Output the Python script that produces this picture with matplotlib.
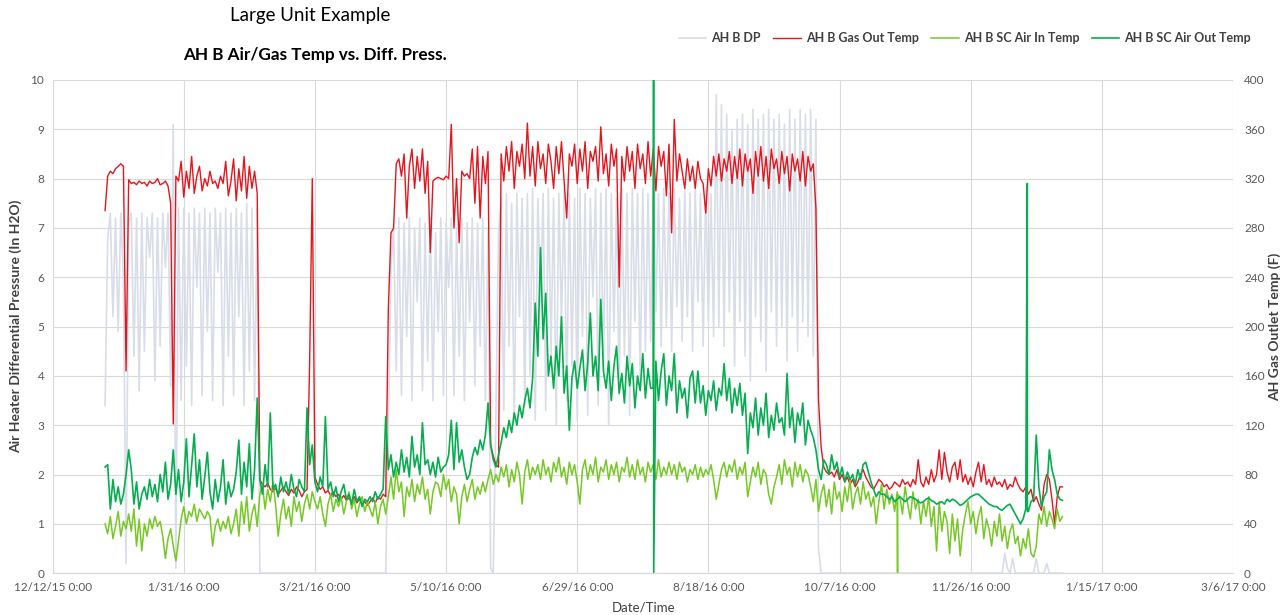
import pandas as pd
import matplotlib.pyplot as plt

plt.rcParams['font.family'] = ['Lato', 'DejaVu Sans']

# Daily readings for 2016, starting 1 Jan
START = '2016-01-01'

# Air heater B differential pressure (in H2O)
AH_B_DP = [
    3.4, 6.8, 7.3, 5.2, 7.2, 4.9, 7.3, 6.0, 0.2, 7.1,
    7.3, 4.4, 7.2, 3.7, 7.3, 4.5, 7.2, 6.4, 7.3, 3.9,
    7.2, 4.6, 7.3, 6.2, 7.3, 3.8, 9.1, 0.1, 7.4, 3.5,
    7.4, 4.2, 7.3, 3.4, 7.4, 5.8, 7.3, 3.6, 7.4, 4.9,
    7.3, 3.5, 7.4, 6.1, 7.3, 3.4, 7.4, 4.4, 7.3, 3.6,
    7.4, 5.2, 7.3, 3.4, 7.5, 4.1, 7.4, 3.5, 7.4, 0.0,
    0.0, 0.0, 0.0, 0.0, 0.0, 0.0, 0.0, 0.0, 0.0, 0.0,
    0.0, 0.0, 0.0, 0.0, 0.0, 0.0, 0.0, 0.0, 0.0, 0.0,
    0.0, 0.0, 0.0, 0.0, 0.0, 0.0, 0.0, 0.0, 0.0, 0.0,
    0.0, 0.0, 0.0, 0.0, 0.0, 0.0, 0.0, 0.0, 0.0, 0.0,
    0.0, 0.0, 0.0, 0.0, 0.0, 0.0, 0.0, 0.0,
    3.0, 6.2, 7.0, 4.1, 7.2, 3.6, 7.1, 4.8, 7.2, 3.5,
    7.0, 5.5, 7.2, 3.7, 7.1, 4.3, 7.2, 3.5, 6.9, 4.9,
    7.2, 3.6, 7.1, 5.8, 7.2, 3.6, 7.0, 4.4, 7.2, 3.5,
    7.1, 5.1, 7.2, 3.8, 7.1, 4.6, 7.2, 3.5, 7.0, 0.1,
    0.0, 3.2, 6.9, 7.6, 3.3, 7.7, 4.6, 7.5, 3.0, 7.7,
    5.2, 7.6, 3.4, 7.7, 4.0, 7.8, 3.1, 7.6, 5.5, 7.7,
    3.3, 7.8, 4.4, 7.6, 3.0, 7.7, 5.0, 7.8, 3.5, 7.7,
    4.2, 7.6, 3.1, 7.8, 4.8, 7.7, 3.2, 7.6, 5.6, 7.8,
    3.4, 7.7, 4.1, 7.8, 3.0, 7.7, 4.9, 7.6, 3.6, 7.8,
    4.4, 7.7, 3.2, 7.8, 5.1, 7.7, 3.9, 7.8, 4.5, 7.7,
    4.7, 7.8, 5.3, 7.7, 4.6, 7.8, 5.0, 7.7, 4.5, 7.8,
    5.4, 7.6, 4.7, 7.8, 5.2, 7.7, 4.5, 7.8, 5.5, 7.7,
    4.6, 7.8, 5.1, 7.7, 4.8, 9.7, 5.0, 9.5, 4.6, 9.3,
    5.3, 9.0, 4.2, 9.2, 5.1, 9.3, 4.4, 9.1, 3.9, 9.4,
    5.2, 9.2, 4.7, 9.3, 4.1, 9.4, 5.3, 9.2, 4.6, 9.3,
    5.0, 9.1, 4.3, 9.4, 5.2, 9.2, 4.5, 9.4, 5.1, 9.3,
    4.8, 9.4, 4.4, 9.2, 0.5, 0.0, 0.0, 0.0, 0.0, 0.0,
    0.0, 0.0, 0.0, 0.0, 0.0, 0.0, 0.0, 0.0, 0.0, 0.0,
    0.0, 0.0, 0.0, 0.0, 0.0, 0.0, 0.0, 0.0, 0.0, 0.0,
    0.0, 0.0, 0.0, 0.0, 0.0, 0.0, 0.0, 0.0, 0.0, 0.0,
    0.0, 0.0, 0.0, 0.0, 0.0, 0.0, 0.0, 0.0, 0.0, 0.0,
    0.0, 0.0, 0.0, 0.0, 0.0, 0.0, 0.0, 0.0, 0.0, 0.0,
    0.0, 0.0, 0.0, 0.0, 0.0, 0.0, 0.0, 0.0, 0.0, 0.0,
    0.0, 0.0, 0.0, 0.0, 0.0, 0.4, 0.1, 0.0, 0.3, 0.0,
    0.0, 0.0, 0.0, 0.0, 0.0, 0.0, 0.0, 0.3, 0.0, 0.0,
    0.0, 0.2, 0.0, 0.0, 0.0, 0.0, 0.0, 0.0,
]

# Gas outlet temperature (F)
AH_B_GAS_OUT = [
    294, 322, 326, 324, 328, 330, 332, 330, 164, 319,
    316, 317, 315, 318, 316, 317, 314, 318, 316, 317,
    320, 315, 316, 318, 314, 300, 121, 322, 318, 334,
    305, 326, 312, 338, 308, 322, 330, 310, 320, 314,
    326, 316, 318, 312, 322, 316, 334, 306, 318, 336,
    302, 328, 310, 338, 304, 330, 312, 326, 308, 76,
    72, 70, 73, 68, 66, 69, 64, 67, 70, 66,
    63, 68, 65, 70, 67, 62, 66, 68, 172, 320,
    78, 72, 68, 70, 65, 67, 63, 66, 62, 64,
    60, 63, 59, 61, 58, 62, 57, 60, 56, 58,
    55, 58, 61, 57, 62, 60, 64, 62, 215, 276,
    280, 332, 336, 322, 340, 288, 330, 344, 312, 338,
    318, 344, 308, 334, 260, 318, 320, 321, 320, 319,
    322, 320, 364, 280, 320, 268, 326, 322, 324, 320,
    344, 300, 346, 288, 338, 316, 342, 104, 95, 88,
    86, 340, 318, 346, 326, 350, 312, 342, 330, 348,
    320, 365, 322, 346, 314, 350, 328, 340, 316, 348,
    334, 312, 346, 324, 350, 318, 288, 340, 330, 348,
    316, 344, 326, 350, 312, 342, 334, 346, 318, 362,
    324, 340, 314, 348, 330, 344, 232, 338, 318, 346,
    326, 342, 312, 348, 328, 340, 316, 350, 322, 344,
    310, 346, 330, 342, 306, 348, 276, 368, 318, 340,
    326, 312, 336, 318, 330, 312, 334, 320, 316, 292,
    328, 314, 338, 322, 340, 318, 336, 326, 342, 316,
    338, 320, 344, 314, 340, 326, 336, 308, 342, 322,
    346, 318, 338, 312, 344, 328, 336, 316, 342, 324,
    338, 310, 340, 326, 336, 318, 342, 314, 338, 326,
    332, 296, 140, 102, 86, 82, 80, 82, 78, 84,
    76, 80, 74, 78, 72, 76, 70, 74, 80, 84,
    78, 74, 70, 68, 72, 76, 74, 70, 72, 68,
    70, 74, 72, 70, 76, 72, 74, 70, 76, 72,
    92, 74, 70, 78, 72, 84, 74, 80, 100, 76,
    98, 82, 74, 86, 90, 76, 92, 74, 80, 72,
    78, 70, 82, 90, 74, 88, 72, 76, 70, 78,
    72, 74, 70, 76, 68, 72, 70, 78, 72, 68,
    66, 70, 64, 68, 58, 62, 56, 51, 72, 80,
    76, 60, 40, 62, 70, 70,
]

# Soot cleaner air inlet temperature (F)
AH_B_SC_AIR_IN = [
    40, 32, 46, 28, 38, 50, 30, 42, 36, 48,
    34, 52, 22, 44, 18, 40, 30, 44, 36, 46,
    38, 42, 30, 12, 28, 36, 22, 10, 26, 44,
    54, 40, 50, 46, 56, 42, 52, 48, 44, 50,
    46, 22, 38, 44, 34, 42, 36, 46, 32, 40,
    52, 30, 58, 40, 62, 34, 48, 56, 38, 64,
    72, 52, 68, 58, 74, 56, 30, 48, 60, 44,
    54, 38, 62, 50, 58, 42, 56, 64, 52, 66,
    58, 52, 62, 48, 38, 56, 64, 50, 60, 54,
    62, 48, 58, 66, 52, 60, 46, 56, 62, 50,
    58, 52, 46, 58, 40, 54, 60, 48, 62, 78,
    60, 84, 66, 74, 46, 70, 62, 76, 58, 72,
    64, 78, 60, 68, 48, 66, 74, 72, 62, 80,
    68, 76, 58, 70, 64, 40, 62, 72, 58, 68,
    76, 60, 70, 64, 74, 66, 76, 84, 72, 80,
    74, 86, 78, 88, 70, 84, 74, 90, 80, 56,
    82, 92, 76, 86, 80, 88, 76, 92, 80, 86,
    74, 90, 82, 94, 78, 86, 72, 90, 80, 88,
    74, 56, 84, 92, 76, 88, 80, 94, 74, 86,
    82, 92, 76, 88, 80, 90, 74, 86, 82, 94,
    78, 88, 76, 92, 80, 86, 74, 90, 82, 88,
    76, 92, 78, 86, 80, 90, 80, 88, 76, 90,
    82, 86, 74, 84, 80, 88, 76, 86, 78, 84,
    80, 88, 76, 60, 72, 84, 90, 78, 88, 82,
    92, 76, 86, 80, 90, 62, 74, 86, 78, 90,
    72, 84, 80, 64, 56, 70, 78, 88, 72, 92,
    80, 86, 70, 90, 78, 88, 74, 84, 80, 70,
    58, 76, 50, 64, 72, 54, 68, 48, 74, 60,
    66, 50, 70, 58, 76, 52, 64, 70, 56, 74,
    60, 66, 54, 62, 40, 58, 72, 52, 68, 56,
    64, 50, 66, 62, 48, 70, 56, 44, 66, 52,
    60, 40, 58, 46, 62, 38, 54, 18, 58, 34,
    50, 42, 16, 48, 26, 44, 14, 36, 48, 58,
    40, 50, 32, 46, 54, 28, 44, 36, 22, 42,
    30, 48, 26, 38, 20, 34, 40, 24, 30, 14,
    28, 20, 36, 16, 13, 22, 48, 40, 54, 38,
    50, 44, 36, 52, 42, 46,
]

# Soot cleaner air outlet temperature (F)
AH_B_SC_AIR_OUT = [
    86, 88, 52, 76, 58, 70, 56, 64, 80, 100,
    84, 56, 74, 52, 64, 70, 60, 76, 62, 72,
    58, 80, 66, 90, 60, 72, 100, 64, 84, 58,
    74, 109, 62, 88, 113, 70, 92, 60, 78, 98,
    66, 52, 76, 58, 70, 92, 56, 74, 62, 68,
    82, 108, 64, 90, 70, 105, 60, 84, 142, 76,
    64, 88, 70, 130, 68, 72, 62, 78, 66, 74,
    64, 80, 68, 62, 76, 70, 66, 134, 88, 104,
    74, 66, 78, 70, 127, 68, 74, 62, 70, 58,
    66, 72, 60, 64, 56, 68, 58, 62, 54, 60,
    58, 62, 58, 66, 60, 64, 68, 127, 84, 96,
    78, 90, 80, 100, 82, 94, 78, 111, 86, 96,
    80, 122, 88, 92, 80, 90, 78, 94, 82, 86,
    88, 96, 124, 84, 122, 90, 100, 86, 76, 80,
    94, 102, 96, 108, 100, 112, 138, 104, 92, 86,
    96, 106, 118, 110, 124, 114, 130, 120, 136, 126,
    140, 150, 134, 158, 219, 176, 264, 190, 227, 160,
    176, 150, 184, 160, 208, 146, 168, 116, 158, 172,
    150, 166, 181, 148, 170, 211, 160, 176, 148, 222,
    164, 150, 172, 140, 168, 184, 146, 162, 138, 176,
    152, 170, 134, 160, 148, 178, 142, 166, 150, 150,
    172, 140, 164, 178, 136, 160, 148, 178, 130, 156,
    142, 150, 126, 158, 164, 138, 164, 138, 152, 128,
    148, 140, 156, 132, 150, 144, 170, 140, 158, 130,
    150, 136, 154, 128, 146, 97, 130, 118, 142, 112,
    134, 120, 146, 110, 128, 116, 138, 122, 126, 112,
    162, 118, 134, 106, 130, 120, 138, 104, 124, 116,
    110, 100, 84, 76, 92, 88, 80, 96, 84, 90,
    78, 86, 74, 82, 76, 80, 72, 84, 76, 88,
    90, 82, 74, 68, 62, 66, 64, 64, 62, 60,
    62, 58, 60, 62, 60, 58, 60, 62, 61, 60,
    58, 57, 58, 60, 61, 59, 58, 56, 57, 58,
    56, 60, 58, 60, 59, 57, 55, 56, 58, 60,
    62, 63, 64, 64, 62, 60, 58, 56, 55, 54,
    54, 52, 51, 53, 55, 56, 52, 48, 44, 40,
    44, 52, 50, 58, 60, 112, 70, 54, 62, 66,
    100, 84, 76, 64, 60, 59,
]

# Short instrument glitches between the daily readings
AIR_IN_GLITCH_TIMES = ['2016-10-29 03:00', '2016-10-29 04:00']
AIR_IN_GLITCH_VALUES = [0, 64]
AIR_OUT_GLITCH_TIMES = ['2016-07-28 03:00', '2016-07-28 04:00',
                        '2016-12-17 14:00', '2016-12-17 15:00']
AIR_OUT_GLITCH_VALUES = [480, 0, 316, 50]

X_TICKS = ['2015-12-12', '2016-01-31', '2016-03-21', '2016-05-10', '2016-06-29',
           '2016-08-18', '2016-10-07', '2016-11-26', '2017-01-15', '2017-03-06']
X_TICK_LABELS = ['12/12/15 0:00', '1/31/16 0:00', '3/21/16 0:00', '5/10/16 0:00',
                 '6/29/16 0:00', '8/18/16 0:00', '10/7/16 0:00', '11/26/16 0:00',
                 '1/15/17 0:00', '3/6/17 0:00']

for s in (AH_B_DP, AH_B_GAS_OUT, AH_B_SC_AIR_IN, AH_B_SC_AIR_OUT):
    assert len(s) == 366, len(s)

dates = pd.date_range(START, periods=366, freq='D')


def make_series(values, extra_times=None, extra_values=None):
    s = pd.Series(values, index=dates, dtype=float)
    if extra_times:
        extra = pd.Series(extra_values, index=pd.to_datetime(extra_times), dtype=float)
        s = pd.concat([s, extra]).sort_index()
    return s


dp = make_series(AH_B_DP)
gas_out = make_series(AH_B_GAS_OUT)
air_in = make_series(AH_B_SC_AIR_IN, AIR_IN_GLITCH_TIMES, AIR_IN_GLITCH_VALUES)
air_out = make_series(AH_B_SC_AIR_OUT, AIR_OUT_GLITCH_TIMES, AIR_OUT_GLITCH_VALUES)

DP_COLOR = '#d8dde8'
RED = '#e4161d'
LIGHT_GREEN = '#76c825'
GREEN = '#06ad50'
TEXT = '#404040'
TICK = '#595959'
GRID = '#d9d9d9'

fig = plt.figure(figsize=(12.83, 6.15), dpi=100)
ax = fig.add_axes([0.041, 0.068, 0.920, 0.802])
ax2 = ax.twinx()

# DP on the left axis, temperatures on the right
l_dp, = ax.plot(dp.index, dp.values, color=DP_COLOR, lw=1.2, label='AH B DP')
l_gas, = ax2.plot(gas_out.index, gas_out.values, color=RED, lw=1.0, label='AH B Gas Out Temp')
l_in, = ax2.plot(air_in.index, air_in.values, color=LIGHT_GREEN, lw=1.1, label='AH B SC Air In Temp')
l_out, = ax2.plot(air_out.index, air_out.values, color=GREEN, lw=1.2, label='AH B SC Air Out Temp')

ax.set_xlim(pd.Timestamp('2015-12-12'), pd.Timestamp('2017-03-06'))
ax.set_ylim(0, 10)
ax2.set_ylim(0, 400)
ax.set_yticks(range(0, 11))
ax2.set_yticks(range(0, 401, 40))
ax.set_xticks(pd.to_datetime(X_TICKS))
ax.set_xticklabels(X_TICK_LABELS)

ax.grid(True, color=GRID, lw=0.8)
ax.set_axisbelow(True)
for a in (ax, ax2):
    for side in ('top', 'left', 'right'):
        a.spines[side].set_visible(False)
    a.spines['bottom'].set_color(GRID)
    a.tick_params(length=0, colors=TICK, labelsize=8.5)
ax.tick_params(axis='x', pad=6)
ax.tick_params(axis='y', pad=6)
ax2.tick_params(axis='y', pad=8)

ax.set_ylabel('Air Heater Differential Pressure (In H2O)', fontsize=10,
              color=TEXT, fontweight='bold', va='center', ha='center')
ax.yaxis.set_label_coords(-0.031, 0.5)
ax2.set_ylabel('AH Gas Outlet Temp (F)', fontsize=10, color=TEXT,
               fontweight='bold', rotation=90, va='center', ha='center')
ax2.yaxis.set_label_coords(1.035, 0.5)
ax.set_xlabel('Date/Time', fontsize=9.5, color=TEXT, va='center')
ax.xaxis.set_label_coords(0.501, -0.069)

fig.text(310 / 1283, 1 - 16 / 615, 'Large Unit Example', ha='center', va='center',
         fontsize=13.5, color='#000000')
fig.text(315 / 1283, 1 - 55 / 615, 'AH B Air/Gas Temp vs. Diff. Press.', ha='center',
         va='center', fontsize=12.3, fontweight='bold', color='#000000')

fig.legend(handles=[l_dp, l_gas, l_in, l_out], loc='center',
           bbox_to_anchor=(965 / 1283, 1 - 38 / 615), ncol=4, frameon=False,
           handlelength=2.2, handletextpad=0.4, columnspacing=1.0,
           labelcolor=TEXT, prop={'weight': 'bold', 'size': 9})

fig.savefig('out.png', dpi=100)
